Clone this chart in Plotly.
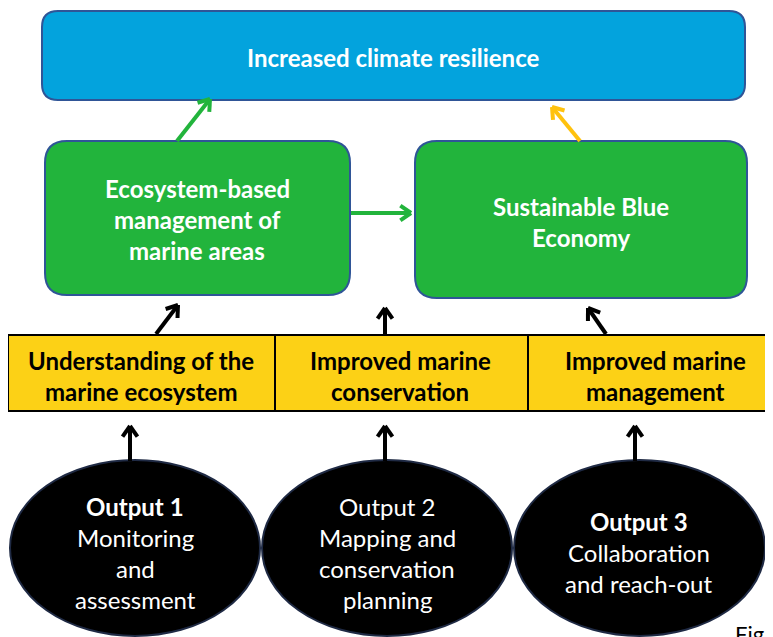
import math
import plotly.graph_objects as go

W, H = 773, 637
OFF = 8  # page body margin compensation

# ---- content ----
top_label = ["Increased climate resilience"]
green_left_lines = ["Ecosystem-based", "management of", "marine areas"]
green_right_lines = ["Sustainable Blue", "Economy"]
outcome_lines = [["Understanding of the", "marine ecosystem"],
                 ["Improved marine", "conservation"],
                 ["Improved marine", "management"]]
output_titles = ["Output 1", "Output 2", "Output 3"]
output_title_bold = [True, False, True]
output_desc = [["Monitoring", "and", "assessment"],
               ["Mapping and", "conservation", "planning"],
               ["Collaboration", "and reach-out"]]

FONT = "Lato"
BLUE = "#03A3DD"
GREEN = "#22B43C"
YELLOW = "#FCD116"
EDGE = "#2F5597"

fig = go.Figure()
shapes = []
annots = []


def rrect(x0, y0, x1, y1, r, fill, line, lw):
    p = (f"M {x0+r},{y0} L {x1-r},{y0} Q {x1},{y0} {x1},{y0+r} "
         f"L {x1},{y1-r} Q {x1},{y1} {x1-r},{y1} L {x0+r},{y1} "
         f"Q {x0},{y1} {x0},{y1-r} L {x0},{y0+r} Q {x0},{y0} {x0+r},{y0} Z")
    shapes.append(dict(type="path", path=p, fillcolor=fill,
                       line=dict(color=line, width=lw), layer="below"))


def arrow(x0, y0, x1, y1, color, lw=4, head=13, ang=35):
    shapes.append(dict(type="line", x0=x0, y0=y0, x1=x1, y1=y1,
                       line=dict(color=color, width=lw)))
    a = math.atan2(y0 - y1, x0 - x1)
    for s in (-1, 1):
        b = a + s * math.radians(ang)
        shapes.append(dict(type="line", x0=x1, y0=y1,
                           x1=x1 + head * math.cos(b), y1=y1 + head * math.sin(b),
                           line=dict(color=color, width=lw)))


def text(x, y, t, size, color, bold=False):
    annots.append(dict(x=x, y=y, text=(f"<b>{t}</b>" if bold else t),
                       showarrow=False, xanchor="center", yanchor="middle",
                       font=dict(family=FONT, size=size, color=color)))


BOX_FS = 24
ELL_FS = 24

# top box
rrect(42, 11, 745, 100, 16, BLUE, EDGE, 2)
text(393, 57, top_label[0], BOX_FS, "white", True)

# green boxes
rrect(45, 141, 350, 295, 22, GREEN, EDGE, 2)
for i, t in enumerate(green_left_lines):
    text(197, 188 + 31 * i, t, BOX_FS, "white", True)
rrect(415, 141, 747, 298, 22, GREEN, EDGE, 2)
for i, t in enumerate(green_right_lines):
    text(581, 206 + 31 * i, t, BOX_FS, "white", True)

# arrows between upper boxes
arrow(177, 141, 210, 99, "#22B43C", 4)
arrow(580, 141, 552, 107, "#FFC20E", 4)
arrow(351, 213, 411, 213, "#22B43C", 4)

# yellow outcome bar
bar_x = [8, 275, 528, 790]
for k in range(3):
    shapes.append(dict(type="rect", x0=bar_x[k], x1=bar_x[k + 1], y0=335, y1=411,
                       fillcolor=YELLOW, line=dict(color="black", width=2), layer="below"))
centers = [141, 400, 655]
for k, lines in enumerate(outcome_lines):
    for i, t in enumerate(lines):
        text(centers[k], 360 + 31 * i, t, BOX_FS, "black", True)

# black arrows above bar
arrow(156, 334, 178, 305, "black", 4)
arrow(385, 334, 385, 308, "black", 4)
arrow(606, 334, 588, 308, "black", 4)

# ellipses
ell = [(10, 260), (262, 512), (514, 765)]
ecent = [135, 387, 639]
for (x0, x1) in ell:
    shapes.append(dict(type="circle", x0=x0, x1=x1, y0=460, y1=636,
                       fillcolor="black", line=dict(color="#1F2A44", width=2), layer="below"))
# arrows below bar
for cx in [130, 385, 635]:
    arrow(cx, 461, cx, 426, "black", 4)

for k in range(3):
    n = 1 + len(output_desc[k])
    y_start = 506 if n == 4 else 521
    text(ecent[k], y_start, output_titles[k], ELL_FS, "white", output_title_bold[k])
    for i, t in enumerate(output_desc[k]):
        text(ecent[k], y_start + 31 * (i + 1), t, ELL_FS, "white", False)

annots.append(dict(x=733, y=633, text="Fig", showarrow=False, xanchor="left",
                   yanchor="middle", font=dict(family=FONT, size=22, color="black")))

fig.update_layout(
    width=W, height=H, margin=dict(l=0, r=0, t=0, b=0),
    paper_bgcolor="white", plot_bgcolor="white",
    xaxis=dict(range=[OFF, W + OFF], visible=False, fixedrange=True),
    yaxis=dict(range=[H + OFF, OFF], visible=False, fixedrange=True),
    shapes=shapes, annotations=annots, showlegend=False,
)
fig.write_html("out.html")
